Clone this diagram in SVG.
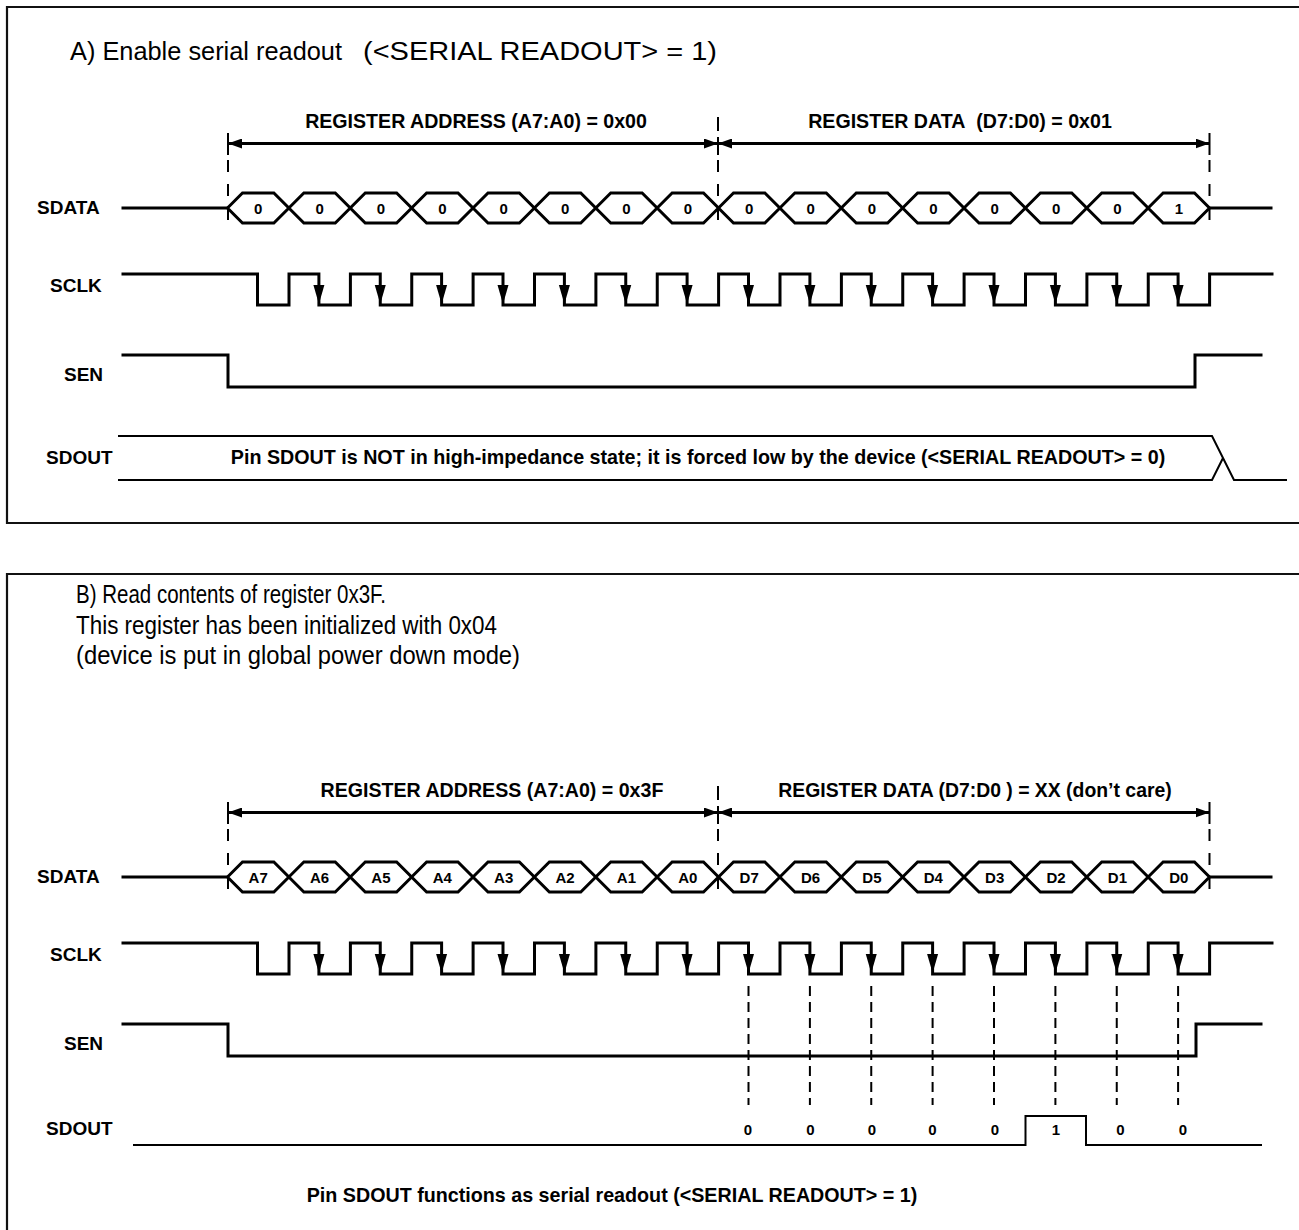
<svg xmlns="http://www.w3.org/2000/svg" xmlns:xlink="http://www.w3.org/1999/xlink" width="1299" height="1230" viewBox="0 0 1299 1230">
<style>
  .frame{fill:none;stroke:#111;stroke-width:2.2}
  .sig{fill:none;stroke:#000;stroke-width:3;stroke-linejoin:miter;stroke-linecap:square}
  .hex{fill:none;stroke:#000;stroke-width:3;stroke-linejoin:miter}
  .thin{fill:none;stroke:#000;stroke-width:2}
  .tick{fill:none;stroke:#000;stroke-width:2}
  .dsh{fill:none;stroke:#000;stroke-width:2;stroke-dasharray:12 12}
  .dsh2{fill:none;stroke:#000;stroke-width:2;stroke-dasharray:10 6}
  .dim{fill:none;stroke:#000;stroke-width:3}
  .title{font-family:"Liberation Sans",Arial,sans-serif;font-size:25px;fill:#000}
  .lbl{font-family:"Liberation Sans",Arial,sans-serif;font-size:19px;font-weight:bold;fill:#000}
  .dl{font-size:19.6px}
  .note{font-size:19.7px}
  .bit{font-family:"Liberation Sans",Arial,sans-serif;font-size:15px;font-weight:bold;fill:#000;text-anchor:middle}
  .mid{text-anchor:middle}
</style>
<defs>
  <path id="hx" class="hex" d="M0,0 l15,-15 h31.375 l15,15 l-15,15 h-31.375 z"/>
  <path id="ca" d="M-5.5,-20 L5.5,-20 L0,-1 Z" fill="#000"/>
  <marker id="ah" viewBox="0 0 14 10" refX="14" refY="5" markerWidth="14" markerHeight="10" markerUnits="userSpaceOnUse" orient="auto-start-reverse">
    <path d="M0,0 L14,5 L0,10 Z" fill="#000"/>
  </marker>
</defs>

<!-- ================= PANEL A ================= -->
<g id="panelA">
  <path class="frame" d="M1299,7 H7 V523 H1299"/>
  <text class="title" x="70" y="60"><tspan textLength="272" lengthAdjust="spacingAndGlyphs">A) Enable serial readout</tspan> <tspan x="363" textLength="354" lengthAdjust="spacingAndGlyphs">(&lt;SERIAL READOUT&gt; = 1)</tspan></text>

  <g id="A-sdata">
    <text class="lbl" x="37" y="214">SDATA</text>
    <path class="sig" d="M123,208 H227.5 M1209.5,208 H1271"/>
    <use xlink:href="#hx" href="#hx" x="227.5" y="208"/>
    <use xlink:href="#hx" href="#hx" x="288.875" y="208"/>
    <use xlink:href="#hx" href="#hx" x="350.25" y="208"/>
    <use xlink:href="#hx" href="#hx" x="411.625" y="208"/>
    <use xlink:href="#hx" href="#hx" x="473" y="208"/>
    <use xlink:href="#hx" href="#hx" x="534.375" y="208"/>
    <use xlink:href="#hx" href="#hx" x="595.75" y="208"/>
    <use xlink:href="#hx" href="#hx" x="657.125" y="208"/>
    <use xlink:href="#hx" href="#hx" x="718.5" y="208"/>
    <use xlink:href="#hx" href="#hx" x="779.875" y="208"/>
    <use xlink:href="#hx" href="#hx" x="841.25" y="208"/>
    <use xlink:href="#hx" href="#hx" x="902.625" y="208"/>
    <use xlink:href="#hx" href="#hx" x="964" y="208"/>
    <use xlink:href="#hx" href="#hx" x="1025.375" y="208"/>
    <use xlink:href="#hx" href="#hx" x="1086.75" y="208"/>
    <use xlink:href="#hx" href="#hx" x="1148.125" y="208"/>
    <text class="bit" x="258.2" y="213.5">0</text>
    <text class="bit" x="319.6" y="213.5">0</text>
    <text class="bit" x="380.9" y="213.5">0</text>
    <text class="bit" x="442.3" y="213.5">0</text>
    <text class="bit" x="503.7" y="213.5">0</text>
    <text class="bit" x="565.1" y="213.5">0</text>
    <text class="bit" x="626.4" y="213.5">0</text>
    <text class="bit" x="687.8" y="213.5">0</text>
    <text class="bit" x="749.2" y="213.5">0</text>
    <text class="bit" x="810.6" y="213.5">0</text>
    <text class="bit" x="871.9" y="213.5">0</text>
    <text class="bit" x="933.3" y="213.5">0</text>
    <text class="bit" x="994.7" y="213.5">0</text>
    <text class="bit" x="1056.1" y="213.5">0</text>
    <text class="bit" x="1117.4" y="213.5">0</text>
    <text class="bit" x="1178.8" y="213.5">1</text>
  </g>

  <g id="A-sclk">
    <text class="lbl" x="50" y="292">SCLK</text>
    <path class="sig" d="M123,274 H257.5 V305 H289 V274 H318.9 V305 H350.4 V274 H380.25 V305 H411.75 V274 H441.6 V305 H473.1 V274 H503 V305 H534.5 V274 H564.4 V305 H595.9 V274 H625.75 V305 H657.25 V274 H687.1 V305 H718.6 V274 H748.5 V305 H780 V274 H809.9 V305 H841.4 V274 H871.25 V305 H902.75 V274 H932.6 V305 H964.1 V274 H994 V305 H1025.5 V274 H1055.4 V305 H1086.9 V274 H1116.75 V305 H1148.25 V274 H1178.1 V305 H1209.6 V274 H1272"/>
    <use href="#ca" xlink:href="#ca" x="318.9" y="305"/>
    <use href="#ca" xlink:href="#ca" x="380.25" y="305"/>
    <use href="#ca" xlink:href="#ca" x="441.6" y="305"/>
    <use href="#ca" xlink:href="#ca" x="503" y="305"/>
    <use href="#ca" xlink:href="#ca" x="564.4" y="305"/>
    <use href="#ca" xlink:href="#ca" x="625.75" y="305"/>
    <use href="#ca" xlink:href="#ca" x="687.1" y="305"/>
    <use href="#ca" xlink:href="#ca" x="748.5" y="305"/>
    <use href="#ca" xlink:href="#ca" x="809.9" y="305"/>
    <use href="#ca" xlink:href="#ca" x="871.25" y="305"/>
    <use href="#ca" xlink:href="#ca" x="932.6" y="305"/>
    <use href="#ca" xlink:href="#ca" x="994" y="305"/>
    <use href="#ca" xlink:href="#ca" x="1055.4" y="305"/>
    <use href="#ca" xlink:href="#ca" x="1116.75" y="305"/>
    <use href="#ca" xlink:href="#ca" x="1178.1" y="305"/>
  </g>

  <g id="A-sen">
    <text class="lbl" x="64" y="381">SEN</text>
    <path class="sig" d="M123,355 H228 V387 H1195 V355 H1261"/>
  </g>

  <g id="A-sdout">
    <text class="lbl" x="46" y="464">SDOUT</text>
    <path class="thin" d="M118,436 H1212 L1234,480 H1287 M118,480 H1212 L1223,458"/>
    <text class="lbl note mid" x="698" y="464">Pin SDOUT is NOT in high-impedance state; it is forced low by the device (&lt;SERIAL READOUT&gt; = 0)</text>
  </g>

  <g id="A-connectors">
    <text class="lbl dl mid" x="476" y="128">REGISTER ADDRESS (A7:A0) = 0x00</text>
    <text class="lbl dl mid" x="960" y="128">REGISTER DATA&#160; (D7:D0) = 0x01</text>
    <path class="dim" d="M228,143.5 H718" marker-start="url(#ah)" marker-end="url(#ah)"/>
    <path class="dim" d="M718,143.5 H1209.5" marker-start="url(#ah)" marker-end="url(#ah)"/>
    <path class="tick" d="M228,133 V155 M718,117 V131 M718,137 V155 M1209.5,133 V155"/>
    <path class="dsh" d="M228,160 V232 M718,160 V232 M1209.5,160 V232"/>
  </g>
</g>

<!-- ================= PANEL B ================= -->
<g id="panelB">
  <path class="frame" d="M1299,574 H7 V1232"/>
  <text class="title" x="76" y="603" textLength="310" lengthAdjust="spacingAndGlyphs">B) Read contents of register 0x3F.</text>
  <text class="title" x="76" y="634" textLength="421" lengthAdjust="spacingAndGlyphs">This register has been initialized with 0x04</text>
  <text class="title" x="76" y="664" textLength="444" lengthAdjust="spacingAndGlyphs">(device is put in global power down mode)</text>

  <g id="B-sdata">
    <text class="lbl" x="37" y="883">SDATA</text>
    <path class="sig" d="M123,877 H227.5 M1209.5,877 H1271"/>
    <use xlink:href="#hx" href="#hx" x="227.5" y="877"/>
    <use xlink:href="#hx" href="#hx" x="288.875" y="877"/>
    <use xlink:href="#hx" href="#hx" x="350.25" y="877"/>
    <use xlink:href="#hx" href="#hx" x="411.625" y="877"/>
    <use xlink:href="#hx" href="#hx" x="473" y="877"/>
    <use xlink:href="#hx" href="#hx" x="534.375" y="877"/>
    <use xlink:href="#hx" href="#hx" x="595.75" y="877"/>
    <use xlink:href="#hx" href="#hx" x="657.125" y="877"/>
    <use xlink:href="#hx" href="#hx" x="718.5" y="877"/>
    <use xlink:href="#hx" href="#hx" x="779.875" y="877"/>
    <use xlink:href="#hx" href="#hx" x="841.25" y="877"/>
    <use xlink:href="#hx" href="#hx" x="902.625" y="877"/>
    <use xlink:href="#hx" href="#hx" x="964" y="877"/>
    <use xlink:href="#hx" href="#hx" x="1025.375" y="877"/>
    <use xlink:href="#hx" href="#hx" x="1086.75" y="877"/>
    <use xlink:href="#hx" href="#hx" x="1148.125" y="877"/>
    <text class="bit" x="258.2" y="882.5">A7</text>
    <text class="bit" x="319.6" y="882.5">A6</text>
    <text class="bit" x="380.9" y="882.5">A5</text>
    <text class="bit" x="442.3" y="882.5">A4</text>
    <text class="bit" x="503.7" y="882.5">A3</text>
    <text class="bit" x="565.1" y="882.5">A2</text>
    <text class="bit" x="626.4" y="882.5">A1</text>
    <text class="bit" x="687.8" y="882.5">A0</text>
    <text class="bit" x="749.2" y="882.5">D7</text>
    <text class="bit" x="810.6" y="882.5">D6</text>
    <text class="bit" x="871.9" y="882.5">D5</text>
    <text class="bit" x="933.3" y="882.5">D4</text>
    <text class="bit" x="994.7" y="882.5">D3</text>
    <text class="bit" x="1056.1" y="882.5">D2</text>
    <text class="bit" x="1117.4" y="882.5">D1</text>
    <text class="bit" x="1178.8" y="882.5">D0</text>
  </g>

  <g id="B-sclk">
    <text class="lbl" x="50" y="961">SCLK</text>
    <path class="sig" d="M123,943 H257.5 V974 H289 V943 H318.9 V974 H350.4 V943 H380.25 V974 H411.75 V943 H441.6 V974 H473.1 V943 H503 V974 H534.5 V943 H564.4 V974 H595.9 V943 H625.75 V974 H657.25 V943 H687.1 V974 H718.6 V943 H748.5 V974 H780 V943 H809.9 V974 H841.4 V943 H871.25 V974 H902.75 V943 H932.6 V974 H964.1 V943 H994 V974 H1025.5 V943 H1055.4 V974 H1086.9 V943 H1116.75 V974 H1148.25 V943 H1178.1 V974 H1209.6 V943 H1272"/>
    <use href="#ca" xlink:href="#ca" x="318.9" y="974"/>
    <use href="#ca" xlink:href="#ca" x="380.25" y="974"/>
    <use href="#ca" xlink:href="#ca" x="441.6" y="974"/>
    <use href="#ca" xlink:href="#ca" x="503" y="974"/>
    <use href="#ca" xlink:href="#ca" x="564.4" y="974"/>
    <use href="#ca" xlink:href="#ca" x="625.75" y="974"/>
    <use href="#ca" xlink:href="#ca" x="687.1" y="974"/>
    <use href="#ca" xlink:href="#ca" x="748.5" y="974"/>
    <use href="#ca" xlink:href="#ca" x="809.9" y="974"/>
    <use href="#ca" xlink:href="#ca" x="871.25" y="974"/>
    <use href="#ca" xlink:href="#ca" x="932.6" y="974"/>
    <use href="#ca" xlink:href="#ca" x="994" y="974"/>
    <use href="#ca" xlink:href="#ca" x="1055.4" y="974"/>
    <use href="#ca" xlink:href="#ca" x="1116.75" y="974"/>
    <use href="#ca" xlink:href="#ca" x="1178.1" y="974"/>
  </g>

  <g id="B-sen">
    <text class="lbl" x="64" y="1050">SEN</text>
    <path class="sig" d="M123,1024 H228 V1056 H1196 V1024 H1261"/>
  </g>

  <g id="B-sdout">
    <text class="lbl" x="46" y="1135">SDOUT</text>
    <path class="thin" d="M133,1145 H1025.5 V1116 H1086 V1145 H1262"/>
    <text class="bit" x="748" y="1135">0</text>
    <text class="bit" x="810.5" y="1135">0</text>
    <text class="bit" x="872" y="1135">0</text>
    <text class="bit" x="932.5" y="1135">0</text>
    <text class="bit" x="995" y="1135">0</text>
    <text class="bit" x="1056" y="1135">1</text>
    <text class="bit" x="1120.5" y="1135">0</text>
    <text class="bit" x="1183" y="1135">0</text>
    <text class="lbl note mid" x="612" y="1202">Pin SDOUT functions as serial readout (&lt;SERIAL READOUT&gt; = 1)</text>
  </g>

  <g id="B-connectors">
    <text class="lbl dl mid" x="492" y="797">REGISTER ADDRESS (A7:A0) = 0x3F</text>
    <text class="lbl mid" x="975" y="797" style="font-size:19.4px">REGISTER DATA (D7:D0 ) = XX (don’t care)</text>
    <path class="dim" d="M228,812.5 H718" marker-start="url(#ah)" marker-end="url(#ah)"/>
    <path class="dim" d="M718,812.5 H1209.5" marker-start="url(#ah)" marker-end="url(#ah)"/>
    <path class="tick" d="M228,802 V824 M718,786 V800 M718,806 V824 M1209.5,802 V824"/>
    <path class="dsh" d="M228,829 V901 M718,829 V901 M1209.5,829 V901"/>
    <path class="dsh2" d="M748.5,986 V1105 M809.9,986 V1105 M871.25,986 V1105 M932.6,986 V1105 M994,986 V1105 M1055.4,986 V1105 M1116.75,986 V1105 M1178.1,986 V1105"/>
  </g>
</g>
</svg>
